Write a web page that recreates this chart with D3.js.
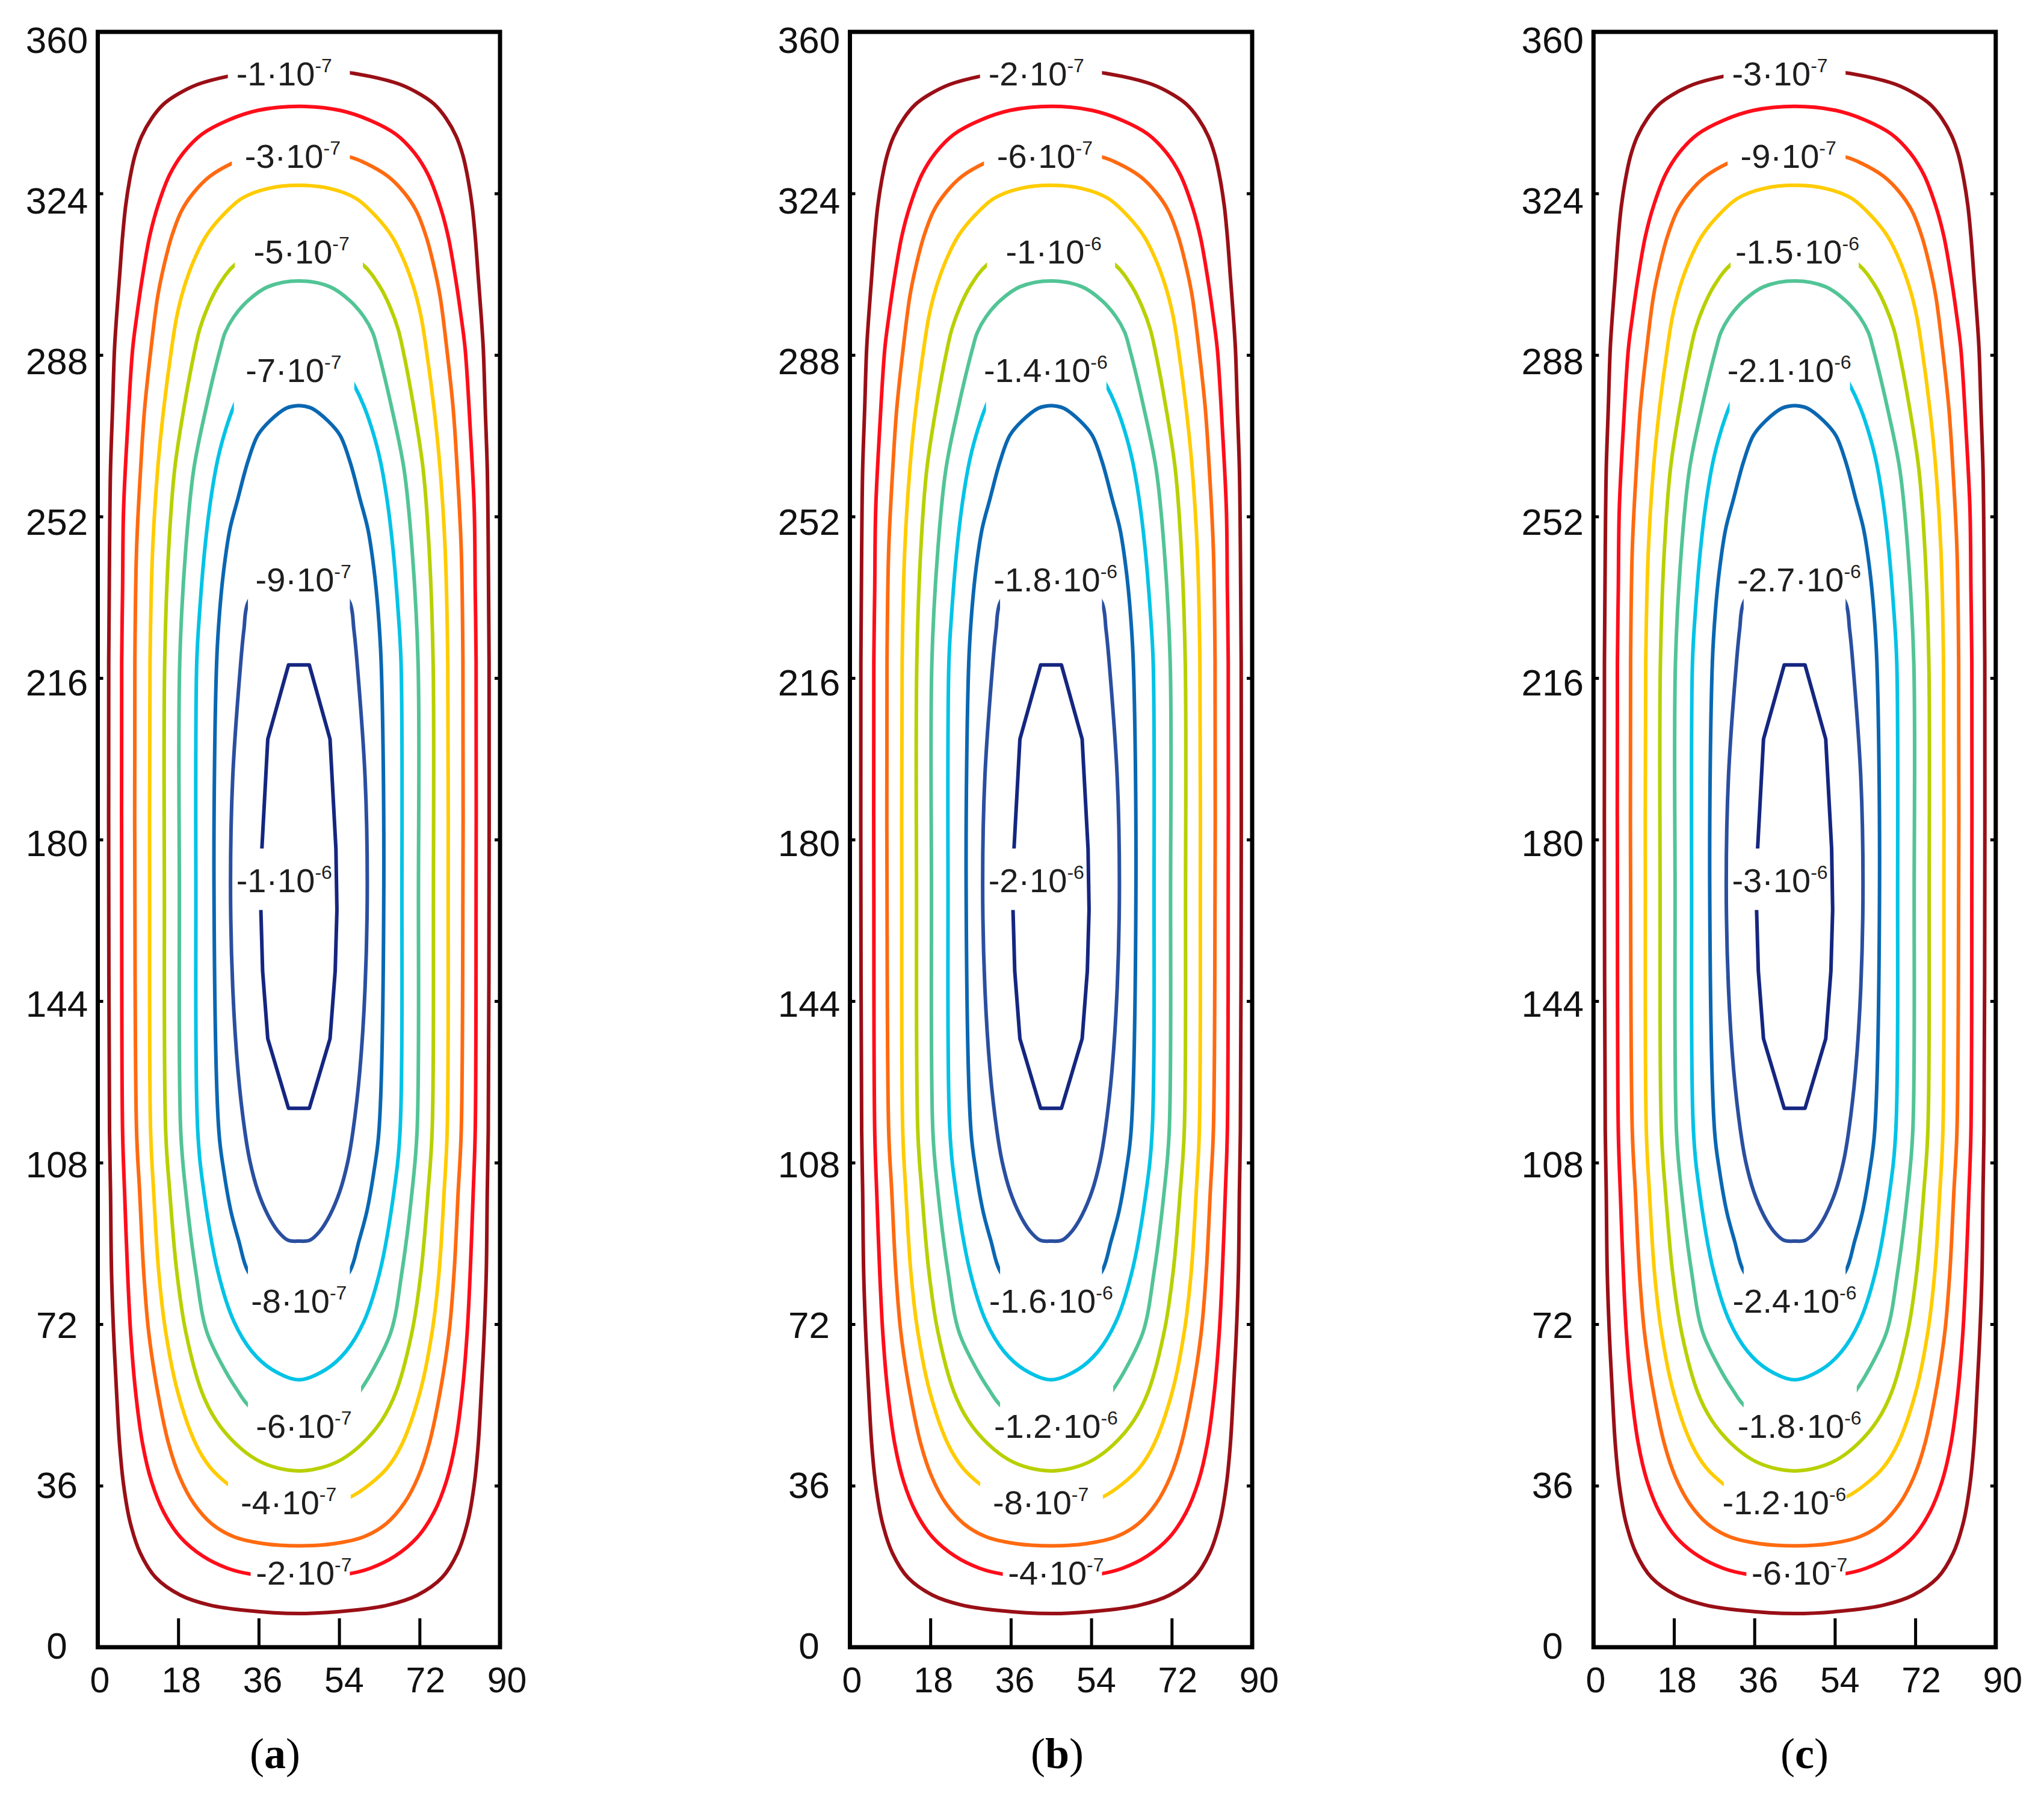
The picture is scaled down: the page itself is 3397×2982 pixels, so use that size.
<!DOCTYPE html>
<html>
<head>
<meta charset="utf-8">
<script src="https://cdn.jsdelivr.net/npm/d3@7"></script>
<style>
  body { margin: 0; background: #fff; }
  svg { display: block; }
</style>
</head>
<body>
<svg id="chart" width="3397" height="2982"></svg>
<script>
"use strict";

// contour levels of each panel, outermost -> innermost
const levelsA = [-1e-7, -2e-7, -3e-7, -4e-7, -5e-7, -6e-7, -7e-7, -8e-7, -9e-7, -1e-6];
const levelsB = [-2e-7, -4e-7, -6e-7, -8e-7, -1e-6, -1.2e-6, -1.4e-6, -1.6e-6, -1.8e-6, -2e-6];
const levelsC = [-3e-7, -6e-7, -9e-7, -1.2e-6, -1.5e-6, -1.8e-6, -2.1e-6, -2.4e-6, -2.7e-6, -3e-6];
const panelNames = ["a", "b", "c"];

const xTicks = [0, 18, 36, 54, 72, 90];
const yTicks = [0, 36, 72, 108, 144, 180, 216, 252, 288, 324, 360];

// left half of every contour (x, y), from top centre down to bottom centre.
// the right half is the mirror image about x = 45
const contour0 = [[45, 351.6], [37, 351.3], [29.1, 350.1], [22.37, 348.3], [17.88, 346.1], [14.74, 343.9],
  [12.05, 340.7], [9.8, 336.7], [8.24, 332.2], [7.11, 326.9], [6.22, 321.1], [5.55, 314.4], [4.87, 305.4],
  [4.2, 296.5], [3.74, 289.3], [3.3, 275.9], [2.85, 262.5], [2.63, 244.7], [2.45, 219.6], [2.45, 170],
  [2.63, 115], [2.85, 101.6], [3.07, 83.8], [3.53, 70.3], [4.2, 56.9], [4.87, 45.3], [5.8, 36],
  [7.2, 28], [9.5, 21], [13, 15.5], [18.5, 11.6], [25, 9.4], [33, 8.2], [45, 7.5]];
const contour1 = [[45, 343.4], [35.8, 342.5], [29.1, 340.3], [23.3, 337.2], [19.2, 333.1], [16.1, 328.2],
  [13.4, 321.1], [11.6, 314.4], [10.0, 305.4], [8.7, 296.5], [7.8, 289.3], [6.66, 271.5], [5.77, 253.6],
  [5.55, 235.7], [5.35, 219.6], [5.35, 170], [5.55, 115], [5.99, 101.6], [6.66, 83.8], [7.34, 70.3],
  [8.46, 56.9], [10.03, 45.3], [12.0, 37], [14.8, 30], [18.5, 24.5], [23.5, 20.3], [29, 17.6],
  [34.2, 16.3], [45, 15.6]];
const contour2 = [[45, 333.3], [33.6, 332.1], [30.0, 330.7], [25.07, 327.8], [21.47, 324.2], [18.78, 320.2],
  [16.53, 314.4], [14.74, 307.6], [13.4, 301.0], [11.9, 289.3], [10.47, 275.9], [9.58, 262.5],
  [8.68, 244.7], [8.3, 219.6], [8.3, 170], [8.68, 115], [9.36, 101.6], [10.26, 83.8], [11.38, 70.3],
  [13.4, 56.9], [15.86, 45.3], [18.3, 38], [21.5, 32], [25.5, 27.5], [30.5, 24.6], [37, 23.1], [45, 22.6]];
const contour3 = [[45, 325.8], [38.07, 325.1], [32.24, 322.9], [27.76, 318.9], [24.17, 314.4], [21.47, 309.0],
  [19.23, 302.8], [17.66, 296.5], [16.5, 289.3], [14.74, 275.9], [13.4, 262.5], [12.28, 244.7],
  [11.69, 219.6], [11.6, 170], [11.82, 115], [12.5, 101.6], [13.62, 83.8], [15.19, 70.3], [17.88, 56.9],
  [21.92, 45.3], [25.2, 40], [29.15, 36.3], [33.4, 33.5], [39, 31.8], [45, 31.2]];
const contour4 = [[45, 313.3], [38, 312.0], [30.67, 308.1], [26.86, 303.2], [24.61, 298.7], [22.82, 293.8],
  [21.75, 289.3], [19.23, 275.9], [17.2, 262.5], [15.86, 244.7], [14.97, 219.6], [14.9, 170],
  [15.19, 115], [16.09, 101.6], [17.66, 83.8], [19.68, 70.3], [23.27, 56.9], [26.5, 50.5], [30.9, 45.3],
  [35.5, 41.8], [40, 40.0], [45, 39.3]];
const contour5 = [[45, 304.5], [38.07, 303.2], [33.6, 300.1], [30.45, 296.5], [28.5, 293.0], [27.4, 289.3],
  [24.17, 275.9], [21.47, 262.5], [19.68, 244.7], [18.34, 219.6], [18.25, 170], [18.56, 115], [19.68, 101.6],
  [21.92, 83.8], [24.39, 70.3], [28.65, 61.4], [31.2, 57.3], [33.6, 54.0], [39, 50.3], [45, 49.3]];
const contour6 = [[45, 288], [38, 286.5], [34, 283.5], [32.6, 281.2], [30.45, 276.6], [28.65, 271.5],
  [26.86, 264.8], [25.28, 255.8], [23.94, 244.7], [22.82, 231.2], [22.15, 219.6], [21.95, 170],
  [22.37, 115], [23.72, 101.6], [26.86, 83.8], [30.45, 72.6], [34.49, 65.9], [38.97, 61.9], [45, 59.6]];
const contour7 = [[45, 276.7], [43.9, 276.6], [42.1, 276.1], [38.5, 273.3], [35.8, 270.1], [33.6, 264.3],
  [31.3, 255.8], [29.55, 249.1], [28.2, 240.2], [27.3, 231.2], [26.6, 219.6], [26.0, 170], [27.09, 115],
  [28.2, 106.1], [29.78, 97.2], [31.57, 90.5], [33.6, 83.8], [37.5, 79.5], [42, 77.3], [45, 77.0]];
const contour8 = [[45, 240], [42.7, 240], [37.5, 237.7], [33.6, 232.8], [32.7, 226.8], [32.0, 219.6],
  [30.2, 194], [29.7, 170], [30.2, 146.9], [31.4, 128.1], [32.9, 115], [34.04, 108.3], [35.84, 101.6],
  [38.07, 96.3], [40.32, 92.7], [42.57, 90.7], [45, 90.5]];
const contour9 = [[45, 218.9], [42.67, 218.9], [38.04, 202.4], [36.72, 178.0], [36.49, 164.3], [36.88, 150.7],
  [38.04, 135.6], [42.67, 120.1], [45, 120.1]];
const contours = [contour0, contour1, contour2, contour3, contour4, contour5, contour6, contour7, contour8, contour9];

// where the label of each contour sits (same spot in all three panels)
const labelX = [41.7, 46.1, 43.6, 42.7, 45.6, 46.1, 43.8, 45.0, 46.0, 41.7];
const labelY = [350.7, 16.6, 332.4, 32.3, 311.0, 49.4, 284.7, 77.2, 238.0, 171.0];

// part of each contour left out for its label: [x0, x1, y0, y1]
const gaps = [[29.1, 56.4, 349.0, 362], [34.2, 56.4, -2, 17.8], [30.0, 56.4, 329.2, 362],
  [29.15, 56.6, -2, 38.2], [30.67, 59.33, 306.6, 362], [33.6, 58.9, -2, 58.6], [30.45, 57.4, 275.2, 362],
  [33.6, 56.4, -2, 85.3], [33.6, 56.4, 231.3, 362], [30, 40, 164.3, 178.0]];

const colors = ["#990f16", "#ff0d1a", "#ff6a10", "#ffcc00", "#b8d000", "#52c496",
  "#00c3e6", "#0a67b2", "#2a4fa0", "#152680"];

// layout
const plotTop = 53, plotW = 668.5, plotH = 2685;
const panelLeft = [162.5, 1412.5, 2648.3];
const captionX = [457, 1757, 2999];
const sans = "'Liberation Sans', Arial, sans-serif";

const svg = d3.select("#chart");
svg.append("rect").attr("width", 3397).attr("height", 2982).attr("fill", "#fff");

const x = d3.scaleLinear().domain([0, 90]).range([0, plotW]);
const y = d3.scaleLinear().domain([0, 360]).range([plotH, 0]);
// the tick labels in the picture sit a little off their ticks
const xLab = d3.scaleLinear().domain([0, 90]).range([3.5, 680]);
const yLab = d3.scaleLinear().domain([0, 360]).range([plotH - 3, 13]);

function ring(half) {
  const right = half.slice(1, -1).reverse().map(p => [90 - p[0], p[1]]);
  return half.concat(right);
}

function parts(v) {
  const e = Math.floor(Math.log10(Math.abs(v)) + 1e-9);
  const m = +(v / Math.pow(10, e)).toPrecision(3);
  return [m + "\u00b710", String(e)];
}

// one mask per contour, cutting the gap for its label
const defs = svg.append("defs");
gaps.forEach((g, i) => {
  const m = defs.append("mask").attr("id", "gap" + i)
    .attr("maskUnits", "userSpaceOnUse")
    .attr("x", -60).attr("y", -60).attr("width", plotW + 120).attr("height", plotH + 120);
  m.append("rect").attr("x", -60).attr("y", -60)
    .attr("width", plotW + 120).attr("height", plotH + 120).attr("fill", "#fff");
  m.append("rect").attr("x", x(g[0])).attr("y", y(g[3]))
    .attr("width", x(g[1]) - x(g[0])).attr("height", y(g[2]) - y(g[3])).attr("fill", "#000");
});

const allLevels = [levelsA, levelsB, levelsC];

panelNames.forEach((name, p) => {
  const g = svg.append("g").attr("transform", `translate(${panelLeft[p]},${plotTop})`);

  // contour lines
  g.append("g").selectAll("path")
    .data(contours)
    .join("path")
      .attr("d", (d, i) => d3.line()
        .x(q => x(q[0])).y(q => y(q[1]))
        .curve(i === 9 ? d3.curveLinearClosed : d3.curveCatmullRomClosed.alpha(0.5))(ring(d)))
      .attr("fill", "none")
      .attr("stroke", (d, i) => colors[i])
      .attr("stroke-width", 6)
      .attr("stroke-linejoin", "round")
      .attr("mask", (d, i) => `url(#gap${i})`);

  // contour labels
  const lab = g.append("g")
    .style("font-family", sans)
    .attr("fill", "#1e1e1e")
    .selectAll("text")
    .data(allLevels[p])
    .join("text")
      .attr("x", (d, i) => x(labelX[i]))
      .attr("y", (d, i) => y(labelY[i]) + 20)
      .attr("text-anchor", "middle")
      .attr("font-size", 56);
  lab.append("tspan").text(d => parts(d)[0]);
  lab.append("tspan").attr("dy", -22).attr("font-size", 32).text(d => parts(d)[1]);

  // ticks: long inward ones at the bottom, short ones left and right
  g.append("g").attr("transform", `translate(0,${plotH})`)
    .call(d3.axisBottom(x).tickValues(xTicks.slice(1, -1)).tickSize(-48).tickFormat(""))
    .call(a => a.select(".domain").remove())
    .selectAll("line").attr("stroke", "#000").attr("stroke-width", 5);
  g.append("g")
    .call(d3.axisLeft(y).tickValues(yTicks).tickSize(-9).tickFormat(""))
    .call(a => a.select(".domain").remove())
    .selectAll("line").attr("stroke", "#000").attr("stroke-width", 5);
  g.append("g").attr("transform", `translate(${plotW},0)`)
    .call(d3.axisRight(y).tickValues(yTicks).tickSize(-9).tickFormat(""))
    .call(a => a.select(".domain").remove())
    .selectAll("line").attr("stroke", "#000").attr("stroke-width", 5);

  // frame
  g.append("rect")
    .attr("width", plotW).attr("height", plotH)
    .attr("fill", "none").attr("stroke", "#000").attr("stroke-width", 7);

  // tick labels
  g.append("g").style("font-family", sans).attr("fill", "#111")
    .selectAll("text").data(yTicks).join("text")
      .attr("x", -68).attr("y", d => yLab(d)).attr("dy", "0.36em")
      .attr("text-anchor", "middle").attr("font-size", 62)
      .text(d => d);
  g.append("g").style("font-family", sans).attr("fill", "#111")
    .selectAll("text").data(xTicks).join("text")
      .attr("x", d => xLab(d)).attr("y", plotH + 54).attr("dy", "0.36em")
      .attr("text-anchor", "middle").attr("font-size", 59)
      .text(d => d);

  // panel caption
  const cap = svg.append("text")
    .attr("x", captionX[p]).attr("y", 2939)
    .attr("text-anchor", "middle")
    .style("font-family", "'Liberation Serif', 'Times New Roman', serif")
    .attr("font-size", 72).attr("fill", "#000");
  cap.append("tspan").text("(");
  cap.append("tspan").attr("font-weight", "bold").text(name);
  cap.append("tspan").text(")");
});
</script>
</body>
</html>
